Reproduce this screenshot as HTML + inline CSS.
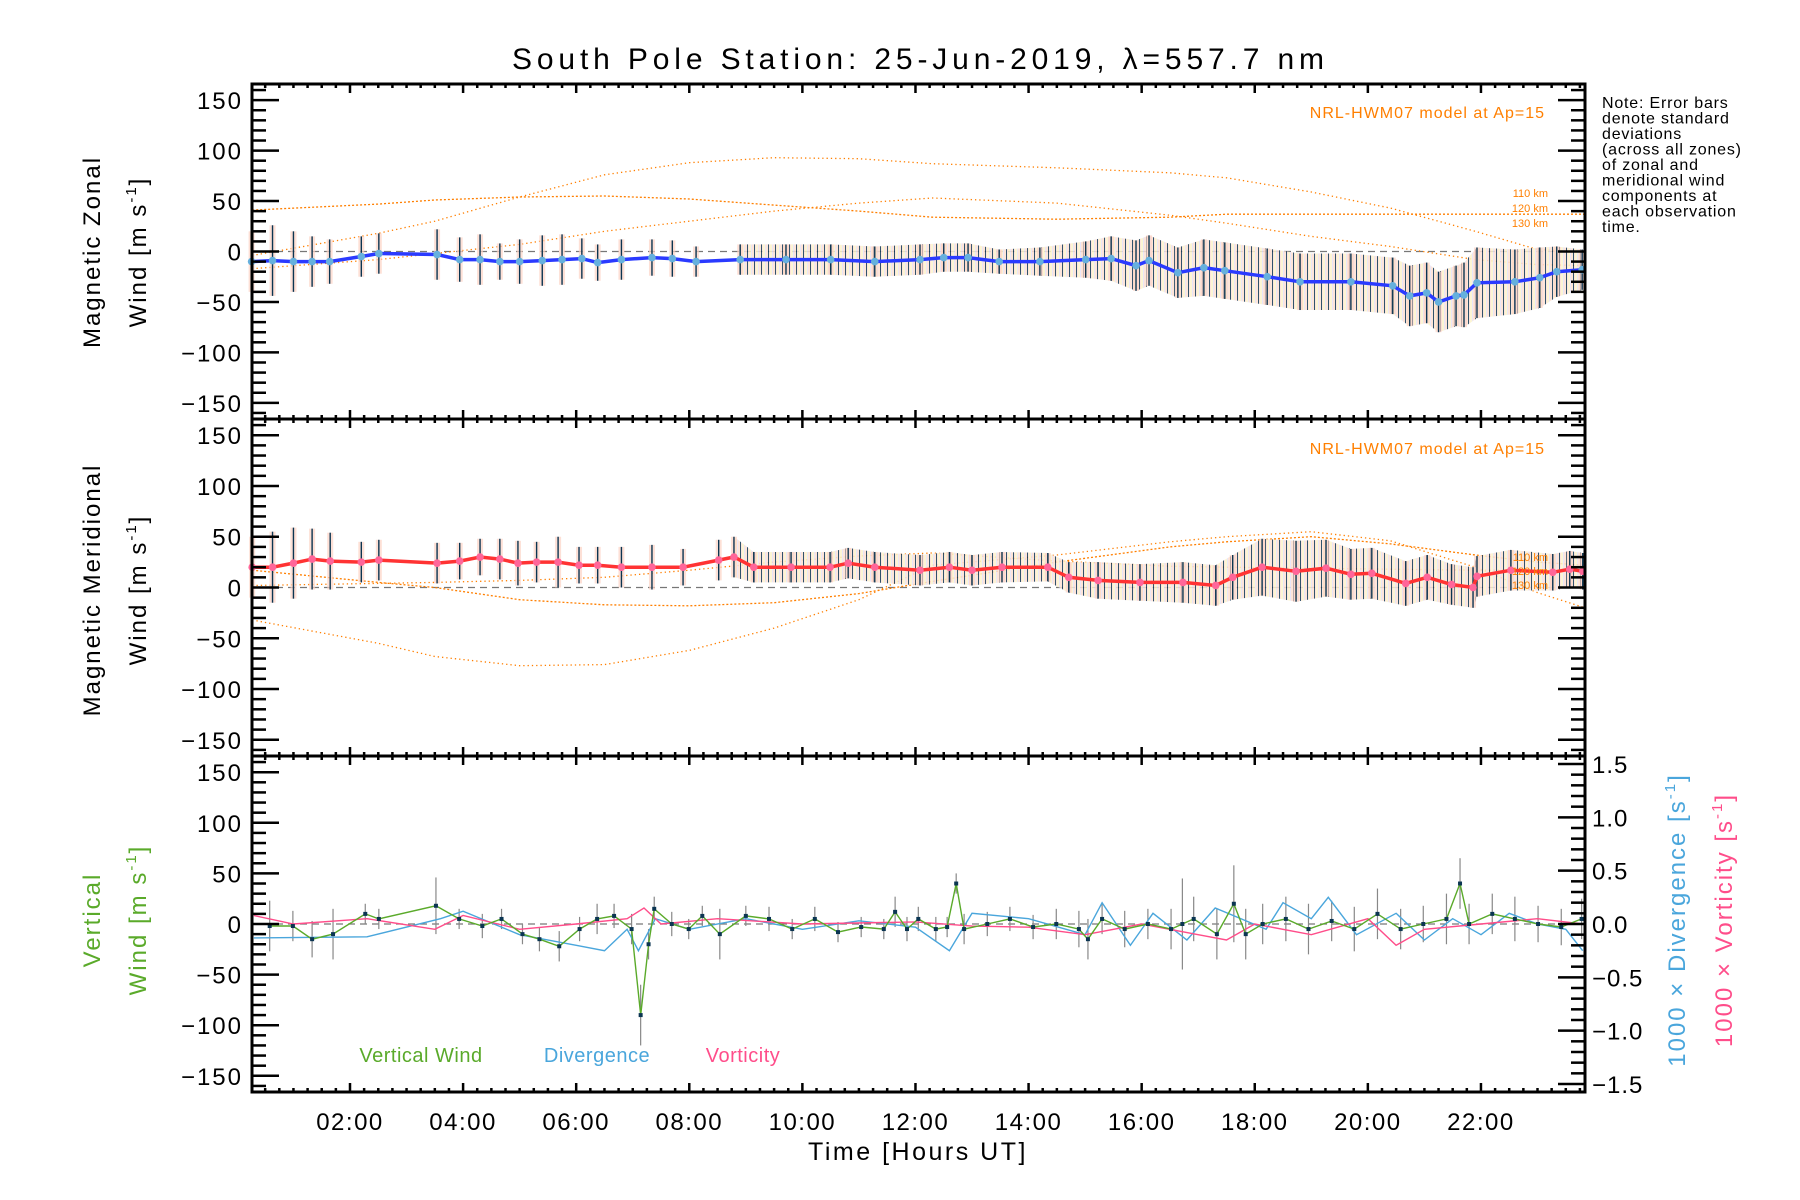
<!DOCTYPE html>
<html><head><meta charset="utf-8"><style>
html,body{margin:0;padding:0;background:#fff;}
svg{display:block;font-family:"Liberation Sans",sans-serif;}
</style></head><body>
<svg id="chart" width="1800" height="1200" viewBox="0 0 1800 1200">
<defs>
<pattern id="barsPat" width="7" height="12" patternUnits="userSpaceOnUse">
<rect x="0" y="0" width="7" height="12" fill="#fde0d4"/>
<rect x="0" y="0" width="2" height="12" fill="#fbf3cc"/>
<rect x="2" y="0" width="1" height="12" fill="#e6e2f5"/>
<rect x="5" y="0" width="1" height="12" fill="#0b3552"/>
</pattern>
</defs>
<text x="918" y="69" text-anchor="middle" font-size="30" textLength="812" lengthAdjust="spacing">South Pole Station: 25-Jun-2019, λ=557.7 nm</text>
<g id="note" font-size="16" letter-spacing="0.8" fill="#000">
<text x="1602" y="108">Note: Error bars</text>
<text x="1602" y="123.5">denote standard</text>
<text x="1602" y="139">deviations</text>
<text x="1602" y="154.5">(across all zones)</text>
<text x="1602" y="170">of zonal and</text>
<text x="1602" y="185.5">meridional wind</text>
<text x="1602" y="201">components at</text>
<text x="1602" y="216.5">each observation</text>
<text x="1602" y="232">time.</text>
</g>
<g id="plots"></g>
</svg>
<script>
// ---- data ----
const zonalT  = [0.26,0.63,1.0,1.33,1.64,2.2,2.51,3.54,3.94,4.3,4.65,5.0,5.4,5.75,6.1,6.38,6.8,7.34,7.7,8.12,8.9,9.71,10.5,11.28,12.08,12.5,12.93,13.48,14.2,15.01,15.46,15.9,16.13,16.64,17.1,17.47,18.22,18.8,19.7,20.44,20.74,21.04,21.25,21.56,21.7,21.93,22.6,23.04,23.34,23.79];
const zonalV  = [-10,-9,-10,-10,-10,-5,-2,-3,-8,-8,-10,-10,-9,-8,-7,-11,-8,-6,-7,-10,-8,-8,-8,-10,-8,-6,-6,-10,-10,-8,-7,-14,-9,-21,-16,-19,-25,-30,-30,-34,-44,-41,-50,-44,-43,-31,-30,-26,-20,-18];
const zonalSd = [30,35,30,25,22,20,20,25,22,25,18,22,25,25,20,18,20,18,18,15,15,15,15,15,15,14,14,12,14,18,22,25,25,25,28,28,28,28,28,28,30,30,30,30,32,35,32,30,25,20];
const meridT  = [0.27,0.63,1.0,1.33,1.65,2.2,2.51,3.54,3.94,4.3,4.65,4.97,5.3,5.68,6.05,6.38,6.8,7.34,7.89,8.52,8.79,9.14,9.8,10.49,10.81,11.28,12.08,12.6,13.0,13.53,14.34,14.71,15.23,15.97,16.73,17.31,17.61,18.13,18.73,19.26,19.7,20.07,20.67,21.05,21.48,21.86,21.93,22.53,23.27,23.57,23.8];
const meridV  = [20,20,24,28,26,25,27,24,26,30,28,24,25,25,22,22,20,20,20,27,30,20,20,20,24,20,17,20,17,20,20,10,7,5,5,2,10,20,16,19,13,14,4,10,3,0,11,17,15,18,16];
const meridSd = [30,35,35,30,28,20,20,20,18,18,20,22,20,25,18,18,20,22,18,20,20,15,15,15,15,15,15,15,15,15,14,15,18,18,20,20,22,28,30,28,25,25,22,22,20,20,20,20,18,18,18];
// HWM07 model curves (110,120,130 km)
const modelT = [0.27,2.5,3.5,5.0,6.5,8.0,9.5,11.0,12.3,14.5,16.5,17.5,19.0,20.4,21.9,23.0,23.84];
const zonM1 = [-4,18,30,54,76,88,93,92,87,83,78,73,59,43,20,2,0];
const zonM2 = [41,47,51,54,55,52,46,40,34,32,34,37,37,37,37,37,37];
const zonM3 = [-17,-8,-2,7,20,30,40,48,53,48,36,28,15,5,-8,-13,-14];
const merM1 = [-32,-55,-68,-77,-76,-62,-40,-12,22,32,45,50,55,46,20,-5,-20];
const merM2 = [17,5,0,-12,-17,-18,-15,-6,6,25,40,45,50,43,32,25,22];
const merM3 = [2,4,5,7,10,17,25,31,34,26,21,20,19,18,17,17,17];
// vertical panel
const vertT  = [0.58,0.99,1.33,1.70,2.27,2.51,3.52,3.93,4.34,4.68,5.05,5.35,5.70,6.06,6.37,6.67,6.98,7.14,7.28,7.38,7.69,7.99,8.23,8.54,9.0,9.41,9.82,10.22,10.63,11.04,11.44,11.64,11.85,12.05,12.36,12.56,12.72,12.86,13.27,13.67,14.08,14.49,14.89,15.05,15.30,15.70,16.11,16.52,16.72,16.92,17.33,17.63,17.84,18.14,18.55,18.95,19.36,19.76,20.17,20.58,20.98,21.39,21.63,21.79,22.2,22.6,23.01,23.42,23.78];
const vertV  = [-2,-2,-15,-10,10,5,18,5,-2,5,-10,-15,-22,-5,5,8,-5,-90,-20,15,0,-5,8,-10,8,5,-5,5,-8,-3,-5,12,-5,5,-5,-3,40,-5,0,5,-3,0,-5,-15,5,-5,0,-5,0,5,-10,20,-10,0,5,-5,3,-5,10,-5,0,5,40,0,10,5,0,-3,5];
const vertSd = [25,15,18,25,10,10,28,10,12,10,10,12,15,12,15,12,15,30,15,12,12,10,10,25,10,12,10,12,10,10,10,15,12,12,12,10,10,15,12,12,12,15,18,20,15,18,15,20,45,22,25,38,25,20,22,25,20,22,25,20,18,25,25,20,20,22,18,18,20];
const divT = [0.3,2.3,3.6,4.0,5.0,6.0,6.5,6.9,7.1,7.4,8.0,9.0,10.0,11.0,12.0,12.6,13.0,14.0,15.0,15.3,15.8,16.2,16.8,17.3,18.2,18.5,19.0,19.3,19.8,20.5,21.0,21.5,22.0,22.5,23.0,23.5,23.8];
const divV = [-0.13,-0.12,0.05,0.12,-0.10,-0.20,-0.25,-0.05,-0.25,0.05,-0.05,0.05,-0.05,0.03,-0.03,-0.25,0.10,0.05,-0.10,0.20,-0.20,0.10,-0.15,0.15,-0.05,0.20,0.05,0.25,-0.10,0.10,-0.15,0.05,-0.10,0.10,0.0,-0.05,-0.25];
const vorT = [0.3,1.0,2.3,3.5,4.0,5.0,6.0,6.9,7.2,7.5,8.5,10.0,12.0,13.0,14.0,15.0,16.0,17.0,17.5,18.0,19.0,20.0,20.5,21.0,22.0,23.0,23.8];
const vorV = [0.08,0.0,0.05,-0.05,0.08,-0.05,0.0,0.05,0.15,0.0,0.05,0.0,0.02,-0.02,-0.03,-0.10,0.0,-0.10,-0.15,0.0,-0.10,0.05,-0.20,-0.05,0.0,0.05,0.0];
const yTicks = [-150,-100,-50,0,50,100,150];
const rTicks = [-1.5,-1.0,-0.5,0.0,0.5,1.0,1.5];
const xTicks = [2,4,6,8,10,12,14,16,18,20,22];

// ---- geometry ----
const NS='http://www.w3.org/2000/svg';
const L=252,R=1585,T0=0.267,T1=23.84,YMIN=-166,YMAX=166,RMAX=1.575;
const panels=[{top:84,bot:419},{top:419,bot:756},{top:756,bot:1092}];
const root=document.getElementById('plots');
function xS(t){return L+(t-T0)/(T1-T0)*(R-L);}
function yS(p,v){return p.bot-(v-YMIN)/(YMAX-YMIN)*(p.bot-p.top);}
function yR(p,v){return p.bot-(v+RMAX)/(2*RMAX)*(p.bot-p.top);}
function mk(tag,attrs,parent){const e=document.createElementNS(NS,tag);for(const k in attrs)e.setAttribute(k,attrs[k]);(parent||root).appendChild(e);return e;}
function fmtT(h){return (h<10?'0':'')+h+':00';}
const ORANGE='#ff7f00';

function drawModel(p,arrs,g){
  arrs.forEach((a,i)=>{
    const d=modelT.map((t,j)=>(j?'L':'M')+xS(t).toFixed(1)+','+yS(p,a[j]).toFixed(1)).join(' ');
    const e=mk('path',{d:d,fill:'none',stroke:ORANGE,'stroke-width':1.3,'stroke-dasharray':i==1?'2 2':'1.3 3'},g);
    
    
  });
}
function drawWindPanel(p,T,V,S,lineCol,markCol,name){
  const g=mk('g',{});
  
  
  const idx=T.map((t,i)=>i).filter(i=>T[i]>=8.6);
  let d='';
  idx.forEach((i,k)=>{d+=(k?'L':'M')+xS(T[i]).toFixed(1)+','+yS(p,V[i]+S[i]).toFixed(1)+' ';});
  idx.slice().reverse().forEach(i=>{d+='L'+xS(T[i]).toFixed(1)+','+yS(p,V[i]-S[i]).toFixed(1)+' ';});
  const band=mk('path',{d:d+'Z',fill:'url(#barsPat)',opacity:0.85},g);
  
  
  T.forEach((t,i)=>{
    const x=xS(t);
    const r=mk('rect',{x:x-3,y:yS(p,V[i]+S[i]),width:6,height:yS(p,V[i]-S[i])-yS(p,V[i]+S[i]),fill:'#fcd3c4',opacity:0.7},g);
    
    
    const e=mk('line',{x1:x,x2:x,y1:yS(p,V[i]+S[i]),y2:yS(p,V[i]-S[i]),stroke:'#0b3552','stroke-width':1.4},g);
    
    
  });
  const ln=mk('path',{d:T.map((t,i)=>(i?'L':'M')+xS(t).toFixed(1)+','+yS(p,V[i]).toFixed(1)).join(' '),fill:'none',stroke:lineCol,'stroke-width':3.5},g);
  
  
  T.forEach((t,i)=>{
    const c=mk('circle',{cx:xS(t),cy:yS(p,V[i]),r:3.8,fill:markCol},g);
    
    
  });
}
function zeroLine(p){
  const e=mk('line',{x1:L,x2:R,y1:yS(p,0),y2:yS(p,0),stroke:'#777','stroke-width':1.3,'stroke-dasharray':'7 5'});
  
  
}
function axes(p,idx,rightAxis){
  const g=mk('g',{});
  
  
  for(let v=-160;v<=160;v+=10){
    const y=yS(p,v),len=(v%50===0)?27:14;
    mk('line',{x1:L,x2:L+len,y1:y,y2:y,stroke:'#000','stroke-width':2.5},g);
    if(!rightAxis) mk('line',{x1:R,x2:R-len,y1:y,y2:y,stroke:'#000','stroke-width':2.5},g);
  }
  yTicks.forEach(v=>{
    const t=mk('text',{x:243,y:yS(p,v)+9,'text-anchor':'end','font-size':24,'letter-spacing':2},g);
    t.textContent=(v<0?'\u2212':'')+Math.abs(v);
    
    
  });
  if(rightAxis){
    for(let k=-15;k<=15;k++){
      const v=k/10,y=yR(p,v),len=(k%5===0)?27:14;
      mk('line',{x1:R,x2:R-len,y1:y,y2:y,stroke:'#000','stroke-width':2.5},g);
    }
    rTicks.forEach(v=>{
      const t=mk('text',{x:1592,y:yR(p,v)+9,'font-size':24,'letter-spacing':1},g);
      t.textContent=(v<0?'\u2212':'')+Math.abs(v).toFixed(1);
      
      
    });
  }
  for(let m=Math.ceil(T0*4);m<=T1*4;m++){
    const x=xS(m/4),len=(m%8===0)?9:4;
    mk('line',{x1:x,x2:x,y1:p.bot,y2:p.bot-len,stroke:'#000','stroke-width':2.5},g);
    mk('line',{x1:x,x2:x,y1:p.top,y2:p.top+len,stroke:'#000','stroke-width':2.5},g);
  }
  const fr=mk('rect',{x:L,y:p.top,width:R-L,height:p.bot-p.top,fill:'none',stroke:'#000','stroke-width':3},g);
  
  
}
function ytitle(x,cy,txt,col,name){
  const t=mk('text',{x:x,y:cy,'text-anchor':'middle','font-size':24,'letter-spacing':2,fill:col,transform:'rotate(-90 '+x+' '+cy+')'});
  t.innerHTML=txt;
  
  
}
function label(x,y,txt,col,size,name,anchor,ls){
  const t=mk('text',{x:x,y:y,'font-size':size,fill:col,'text-anchor':anchor||'start','letter-spacing':ls||0});
  t.textContent=txt;
  
  
}

// panel 1: zonal
const p1=panels[0];
zeroLine(p1);
drawModel(p1,[zonM1,zonM2,zonM3],root);
drawWindPanel(p1,zonalT,zonalV,zonalSd,'#2a3aff','#66b0dd','zonal-wind');
label(1545,118,'NRL-HWM07 model at Ap=15',ORANGE,16,'model-label-zonal','end',1);
label(1548,197,'110 km',ORANGE,11,'model-110km-label','end');
label(1548,212,'120 km',ORANGE,11,'model-120km-label','end');
label(1548,227,'130 km',ORANGE,11,'model-130km-label','end');
axes(p1,0,false);
ytitle(100,252,'Magnetic Zonal','#000','y-axis-title-zonal');
ytitle(146,252,'Wind [m s<tspan font-size="15" dy="-10">-1</tspan><tspan dy="10">]</tspan>','#000','y-axis-units-zonal');

// panel 2: meridional
const p2=panels[1];
zeroLine(p2);
drawModel(p2,[merM1,merM2,merM3],root);
drawWindPanel(p2,meridT,meridV,meridSd,'#ff3333','#ff6699','meridional-wind');
label(1545,454,'NRL-HWM07 model at Ap=15',ORANGE,16,'model-label-meridional','end',1);
label(1548,561,'110 km',ORANGE,11,'model-110km-label-2','end');
label(1548,575,'120 km',ORANGE,11,'model-120km-label-2','end');
label(1548,589,'130 km',ORANGE,11,'model-130km-label-2','end');
axes(p2,1,false);
ytitle(100,590,'Magnetic Meridional','#000','y-axis-title-meridional');
ytitle(146,590,'Wind [m s<tspan font-size="15" dy="-10">-1</tspan><tspan dy="10">]</tspan>','#000','y-axis-units-meridional');

// panel 3: vertical
const p3=panels[2];
zeroLine(p3);
(function(){
  const g=mk('g',{});
  
  
  vertT.forEach((t,i)=>{
    const e=mk('line',{x1:xS(t),x2:xS(t),y1:yS(p3,vertV[i]+vertSd[i]),y2:yS(p3,vertV[i]-vertSd[i]),stroke:'#888','stroke-width':1.2},g);
    
    
  });
  const dv=mk('path',{d:divT.map((t,i)=>(i?'L':'M')+xS(t).toFixed(1)+','+yR(p3,divV[i]).toFixed(1)).join(' '),fill:'none',stroke:'#4aa6dc','stroke-width':1.4},g);
  
  
  const vo=mk('path',{d:vorT.map((t,i)=>(i?'L':'M')+xS(t).toFixed(1)+','+yR(p3,vorV[i]).toFixed(1)).join(' '),fill:'none',stroke:'#ff4d8a','stroke-width':1.4},g);
  
  
  const vw=mk('path',{d:vertT.map((t,i)=>(i?'L':'M')+xS(t).toFixed(1)+','+yS(p3,vertV[i]).toFixed(1)).join(' '),fill:'none',stroke:'#5aaa2a','stroke-width':1.4},g);
  
  
  vertT.forEach((t,i)=>{
    const c=mk('rect',{x:xS(t)-2,y:yS(p3,vertV[i])-2,width:4,height:4,fill:'#0b3552'},g);
    
    
  });
})();
label(421,1062,'Vertical Wind','#5aaa2a',20,'legend-vertical-wind','middle',0.5);
label(597,1062,'Divergence','#4aa6dc',20,'legend-divergence','middle',0.5);
label(743,1062,'Vorticity','#ff4d8a',20,'legend-vorticity','middle',0.5);
axes(p3,2,true);
ytitle(100,920,'Vertical','#5aaa2a','y-axis-title-vertical');
ytitle(146,920,'Wind [m s<tspan font-size="15" dy="-10">-1</tspan><tspan dy="10">]</tspan>','#5aaa2a','y-axis-units-vertical');
(function(){
  const x1=1685,x2=1732,cy=920;
  const a=mk('text',{x:x1,y:cy,'text-anchor':'middle','font-size':24,'letter-spacing':2,fill:'#4aa6dc',transform:'rotate(-90 '+x1+' '+cy+')'});
  a.innerHTML='1000 × Divergence [s<tspan font-size="15" dy="-10">-1</tspan><tspan dy="10">]</tspan>';
  
  
  const b=mk('text',{x:x2,y:cy,'text-anchor':'middle','font-size':24,'letter-spacing':2,fill:'#ff4d8a',transform:'rotate(-90 '+x2+' '+cy+')'});
  b.innerHTML='1000 × Vorticity [s<tspan font-size="15" dy="-10">-1</tspan><tspan dy="10">]</tspan>';
  
  
})();
xTicks.forEach(h=>{
  const t=mk('text',{x:xS(h),y:1130,'text-anchor':'middle','font-size':24,'letter-spacing':1.5});
  t.textContent=fmtT(h);
  
  
});
label(918,1160,'Time [Hours UT]','#000',25,'x-axis-title','middle',2.5);
</script>
</body></html>
